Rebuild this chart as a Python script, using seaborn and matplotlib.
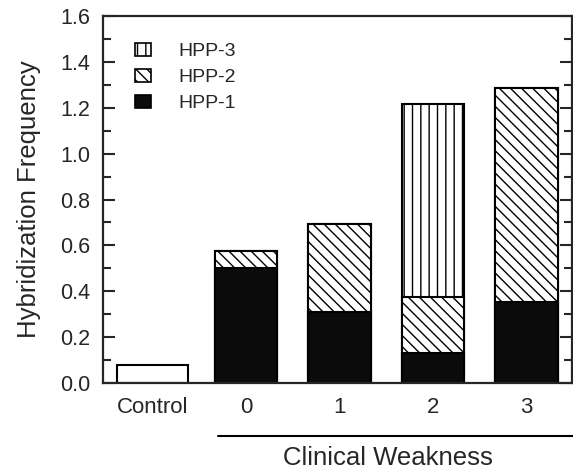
import matplotlib
matplotlib.use("Agg")
import matplotlib.pyplot as plt
import seaborn as sns
import pandas as pd
from matplotlib.patches import Patch
from matplotlib.lines import Line2D
from matplotlib.ticker import MultipleLocator

# ---- data ----
categories = ["Control", "0", "1", "2", "3"]
weak_groups = ["0", "1", "2", "3"]
control_value = [0.08]
hpp1 = [0.50, 0.31, 0.13, 0.355]
hpp2 = [0.075, 0.385, 0.245, 0.93]
hpp3 = [0.0, 0.0, 0.84, 0.0]
yticks = [0.0, 0.2, 0.4, 0.6, 0.8, 1.0, 1.2, 1.4, 1.6]
legend_labels = ["HPP-3", "HPP-2", "HPP-1"]

sns.set_style("ticks")
plt.rcParams["font.family"] = ["Liberation Sans", "DejaVu Sans"]
plt.rcParams["hatch.linewidth"] = 1.0
plt.rcParams["hatch.color"] = "black"

fig = plt.figure(figsize=(5.73, 4.71), dpi=100)
ax = fig.add_axes([103 / 573, 88 / 471, 469 / 573, 367 / 471])

lvl1 = hpp1
lvl2 = [a + b for a, b in zip(hpp1, hpp2)]
lvl3 = [a + b + c for a, b, c in zip(hpp1, hpp2, hpp3)]

df = pd.DataFrame({"group": weak_groups, "l1": lvl1, "l2": lvl2, "l3": lvl3})
dfc = pd.DataFrame({"group": ["Control"], "v": control_value})

W = 0.67
edge_lw = 1.5
# top layer HPP-3 (vertical hatch)
sns.barplot(data=df, x="group", y="l3", order=categories, width=W, color="white",
            edgecolor="black", linewidth=edge_lw, hatch="||", ax=ax, saturation=1)
# HPP-2 (diagonal hatch)
sns.barplot(data=df, x="group", y="l2", order=categories, width=W, color="white",
            edgecolor="black", linewidth=edge_lw, hatch="\\\\\\", ax=ax, saturation=1)
# HPP-1 (solid black)
sns.barplot(data=df, x="group", y="l1", order=categories, width=W, color="#0b0b0b",
            edgecolor="black", linewidth=edge_lw, ax=ax, saturation=1)
# Control (open bar)
sns.barplot(data=dfc, x="group", y="v", order=categories, width=0.755, color="white",
            edgecolor="black", linewidth=edge_lw, ax=ax, saturation=1)

ax.set_xlim(-0.527, 4.484)
ax.set_ylim(0, 1.6)
ax.set_yticks(yticks)
ax.set_yticklabels([f"{t:.1f}" for t in yticks])
ax.yaxis.set_minor_locator(MultipleLocator(0.1))
ax.tick_params(axis="y", which="major", direction="in", length=8.5, width=1.5,
               left=True, right=True, labelsize=15.5, pad=9)
ax.tick_params(axis="y", which="minor", direction="in", length=5.5, width=1.5,
               left=True, right=True)
ax.tick_params(axis="x", length=0, labelsize=16, pad=10)
for s in ax.spines.values():
    s.set_linewidth(1.6)
    s.set_visible(True)

ax.set_xlabel("")
ax.set_ylabel("Hybridization Frequency", fontsize=18.5, labelpad=14)

handles = [
    Patch(facecolor="white", edgecolor="black", hatch="||", linewidth=1.2),
    Patch(facecolor="white", edgecolor="black", hatch="\\\\\\", linewidth=1.2),
    Patch(facecolor="#0b0b0b", edgecolor="black", linewidth=1.2),
]
ax.legend(handles, legend_labels, loc="upper left", bbox_to_anchor=(0.03, 0.975),
          frameon=False, fontsize=14, handlelength=0.85, handleheight=0.65,
          handletextpad=1.4, labelspacing=0.45)

# Clinical Weakness bracket line and label
fig.add_artist(Line2D([218 / 573, 1.0], [35 / 471, 35 / 471], color="black",
                      linewidth=1.5, transform=fig.transFigure))
fig.text(388 / 573, 6 / 471, "Clinical Weakness", ha="center", va="baseline",
         fontsize=18.5)

fig.savefig("out.png", dpi=100)
